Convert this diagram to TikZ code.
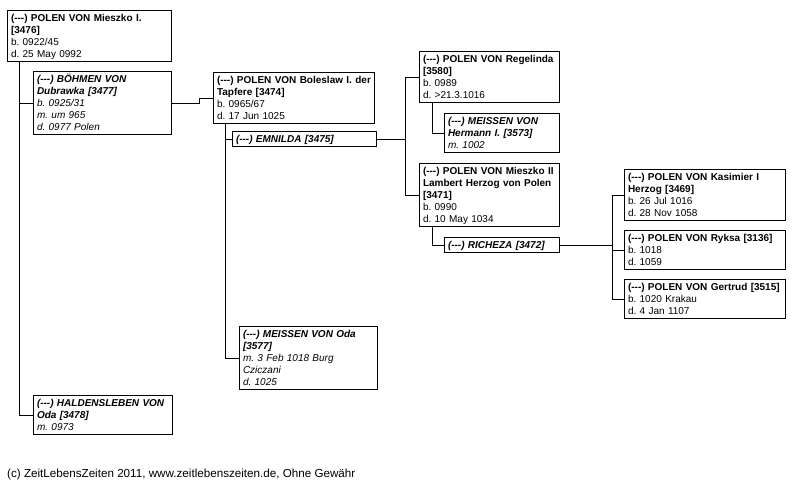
\documentclass[tikz,border=0pt]{standalone}
\usepackage{fontspec}
\setmainfont{Liberation Sans}
\frenchspacing
\newcommand{\unk}{(-{}-{}-)}
\newcommand{\firstl}{\rule{0pt}{9.8pt}}
\newcommand{\lastl}{\rule[-2.3pt]{0pt}{2.3pt}}
\begin{document}
\begin{tikzpicture}[x=1pt,y=-1pt,
  fam/.style={draw=black, line width=1pt, anchor=north west, align=left,
    inner xsep=3.5pt, inner ysep=1.5pt,
    font=\fontsize{10}{12}\selectfont\frenchspacing},
  conn/.style={draw=black, line width=1pt}]
\useasboundingbox (0,0) rectangle (802,489);
\fill[white] (0,0) rectangle (802,489);

% generation 1
\node[fam, text width=157pt] (m1) at (7,10) {\firstl\textbf{\unk{} POLEN VON Mieszko I.}\\\textbf{[3476]}\\b. 0922/45\\d. 25 May 0992\lastl};
\node[fam, text width=131pt] (s1) at (33,71) {\firstl\textbf{\textit{\unk{} BÖHMEN VON}}\\\textbf{\textit{Dubrawka [3477]}}\\\textit{b. 0925/31}\\\textit{m. um 965}\\\textit{d. 0977 Polen}\lastl};
\node[fam, text width=132pt] (hald) at (33,395) {\firstl\textbf{\textit{\unk{} HALDENSLEBEN VON}}\\\textbf{\textit{Oda [3478]}}\\\textit{m. 0973}\lastl};

% generation 2
\node[fam, text width=154pt] (c1) at (213,72) {\firstl\textbf{\unk{} POLEN VON Boleslaw I. der}\\\textbf{Tapfere [3474]}\\b. 0965/67\\d. 17 Jun 1025\lastl};
\node[fam, text width=137pt] (emn) at (232,131) {\firstl\textbf{\textit{\unk{} EMNILDA [3475]}}\lastl};
\node[fam, text width=131pt] (oda) at (239,326) {\firstl\textbf{\textit{\unk{} MEISSEN VON Oda}}\\\textbf{\textit{[3577]}}\\\textit{m. 3 Feb 1018 Burg}\\\textit{Cziczani}\\\textit{d. 1025}\lastl};

% generation 3
\node[fam, text width=133pt] (reg) at (419,51) {\firstl\textbf{\unk{} POLEN VON Regelinda}\\\textbf{[3580]}\\b. 0989\\d. >21.3.1016\lastl};
\node[fam, text width=108pt] (herm) at (444,113) {\firstl\textbf{\textit{\unk{} MEISSEN VON}}\\\textbf{\textit{Hermann I. [3573]}}\\\textit{m. 1002}\lastl};
\node[fam, text width=133pt] (mz2) at (419,163) {\firstl\textbf{\unk{} POLEN VON Mieszko II}\\\textbf{Lambert Herzog von Polen}\\\textbf{[3471]}\\b. 0990\\d. 10 May 1034\lastl};
\node[fam, text width=108pt] (rich) at (444,237) {\firstl\textbf{\textit{\unk{} RICHEZA [3472]}}\lastl};

% generation 4
\node[fam, text width=154pt] (kas) at (624,169) {\firstl\textbf{\unk{} POLEN VON Kasimier I}\\\textbf{Herzog [3469]}\\b. 26 Jul 1016\\d. 28 Nov 1058\lastl};
\node[fam, text width=154pt] (ryk) at (624,230) {\firstl\textbf{\unk{} POLEN VON Ryksa [3136]}\\b. 1018\\d. 1059\lastl};
\node[fam, text width=154pt] (ger) at (624,279) {\firstl\textbf{\unk{} POLEN VON Gertrud [3515]}\\b. 1020 Krakau\\d. 4 Jan 1107\lastl};

% junction columns
\coordinate (jM) at (19,0);
\coordinate (jA) at (199,0);
\coordinate (jE) at (225,0);
\coordinate (jB) at (405,0);
\coordinate (jC) at (432,0);
\coordinate (jD) at (612,0);

% connectors
\draw[conn] (jM |- m1.south) |- (hald.west);
\draw[conn] (jM |- s1.west) -- (s1.west);
\draw[conn] (s1.east) -- (s1.east -| jA) -- (jA |- c1.west) -- (c1.west);
\draw[conn] (jE |- c1.south) |- (oda.west);
\draw[conn] (jE |- emn.west) -- (emn.west);
\draw[conn] (emn.east) -- (emn.east -| jB);
\draw[conn] (reg.west) -- (reg.west -| jB) -- (jB |- mz2.west) -- (mz2.west);
\draw[conn] (jC |- reg.south) |- (herm.west);
\draw[conn] (jC |- mz2.south) |- (rich.west);
\draw[conn] (rich.east) -- (rich.east -| jD);
\draw[conn] (kas.west) -- (kas.west -| jD) -- (jD |- ger.west) -- (ger.west);
\draw[conn] (jD |- ryk.west) -- (ryk.west);

% footer
\node[anchor=base west, inner sep=0pt, font=\fontsize{11.65}{13}\selectfont] (foot) at (7,477) {(c) ZeitLebensZeiten 2011, www.zeitlebenszeiten.de, Ohne Gewähr};
\end{tikzpicture}
\end{document}
